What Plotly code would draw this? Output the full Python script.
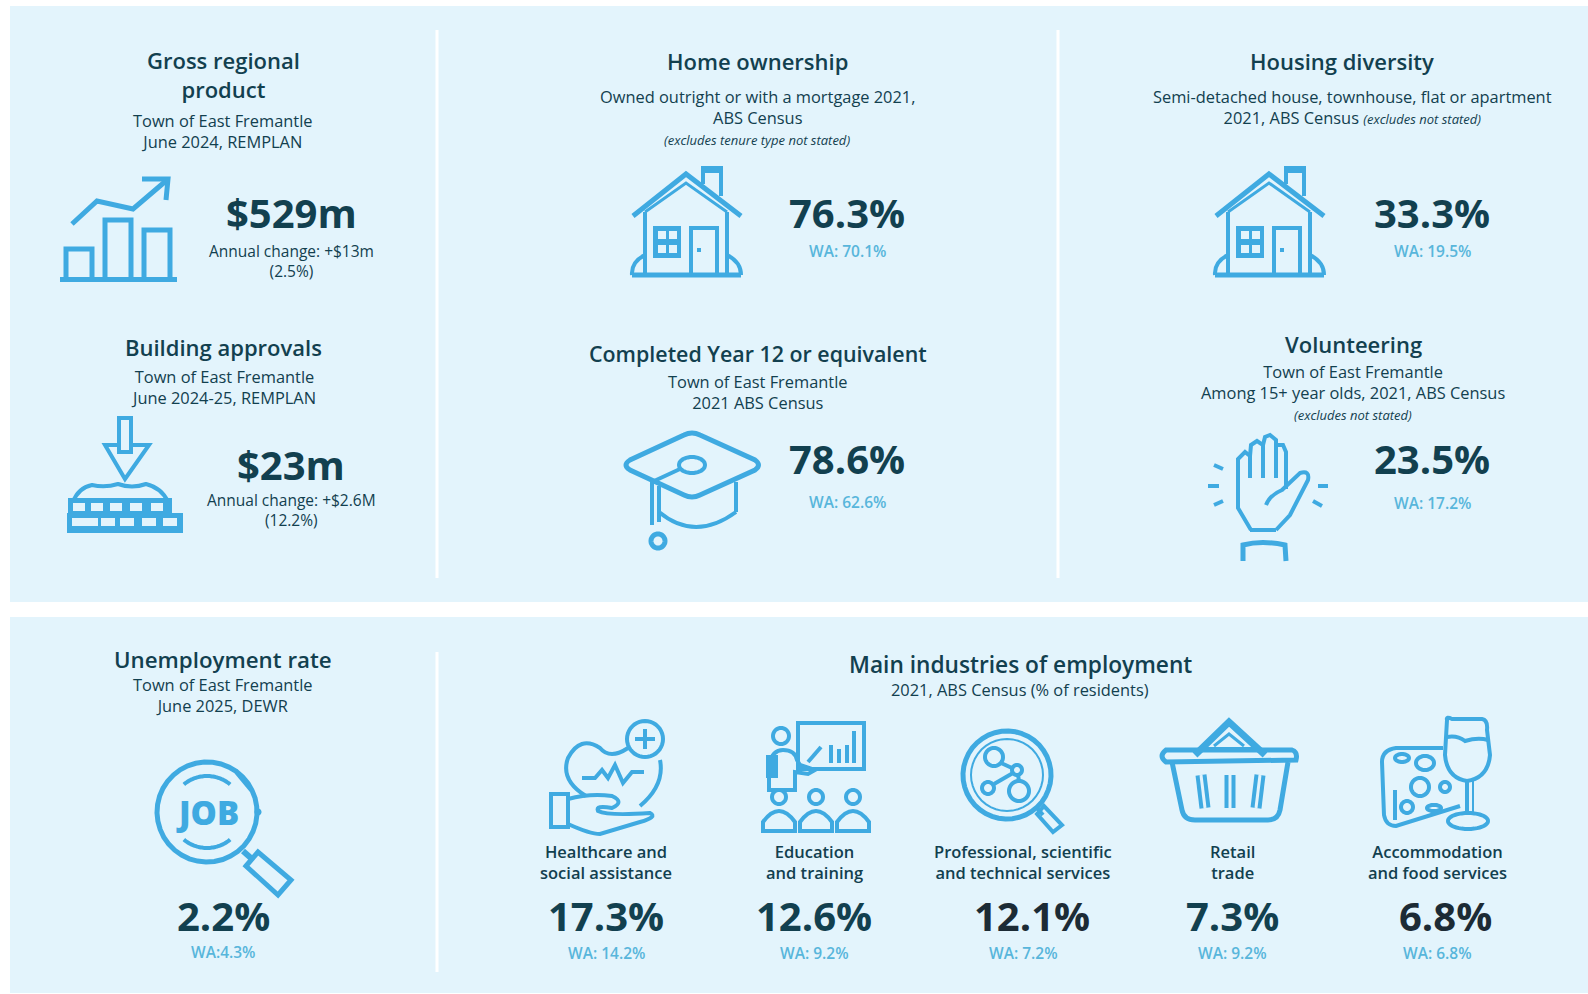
import numpy as np
import plotly.graph_objects as go

W, H = 1588, 994
PANEL = "#E3F4FC"
ICON = "#3FAAE1"
DARK = "#12404F"
BLACK = "#1C2B35"
WA = "#58B6DB"
FONT = "Open Sans"

# ---- chart text and values ----
titles = ["Gross regional<br>product", "Building approvals", "Home ownership",
          "Completed Year 12 or equivalent", "Housing diversity", "Volunteering",
          "Unemployment rate", "Main industries of employment"]
subtitles = ["Town of East Fremantle<br>June 2024, REMPLAN",
             "Town of East Fremantle<br>June 2024-25, REMPLAN",
             "Owned outright or with a mortgage 2021,<br>ABS Census",
             "Town of East Fremantle<br>2021 ABS Census",
             "Semi-detached house, townhouse, flat or apartment<br>2021, ABS Census <i><span style='font-size:13px'>(excludes not stated)</span></i>",
             "Town of East Fremantle<br>Among 15+ year olds, 2021, ABS Census",
             "Town of East Fremantle<br>June 2025, DEWR",
             "2021, ABS Census (% of residents)"]
notes = ["(excludes tenure type not stated)", "(excludes not stated)"]
kpi_values = ["$529m", "$23m", "76.3%", "78.6%", "33.3%", "23.5%", "2.2%"]
kpi_captions = ["Annual change: +$13m<br>(2.5%)", "Annual change: +$2.6M<br>(12.2%)"]
kpi_wa = ["WA: 70.1%", "WA: 62.6%", "WA: 19.5%", "WA: 17.2%", "WA:4.3%"]
industries = ["Healthcare and<br>social assistance", "Education<br>and training",
              "Professional, scientific<br>and technical services", "Retail<br>trade",
              "Accommodation<br>and food services"]
industry_share = ["17.3%", "12.6%", "12.1%", "7.3%", "6.8%"]
industry_wa = ["WA: 14.2%", "WA: 9.2%", "WA: 7.2%", "WA: 9.2%", "WA: 6.8%"]

# ---- layout positions ----
title_xy = [(223, 74), (223, 347), (757, 61), (758, 353), (1342, 61), (1353, 344), (223, 659), (1020, 664)]
title_size = [22, 22, 22, 21.4, 22, 22, 22.3, 22.7]
sub_xy = [(223, 131), (223, 387), (757, 107), (758, 392), (1352, 107), (1353, 382), (223, 695), (1020, 689)]
note_xy = [(757, 140), (1353, 415)]
val_xy = [(291, 212), (291, 464), (847, 212), (847, 458), (1432, 212), (1432, 458), (223, 915)]
cap_xy = [(291, 261), (291, 510)]
wa_xy = [(847, 251), (847, 502), (1432, 251), (1432, 503), (223, 952)]
ind_x = [606, 814, 1023, 1232, 1437]
ind_val_x = [606, 814, 1032, 1232, 1445]
ind_val_col = [DARK, DARK, BLACK, DARK, BLACK]

shapes, ann = [], []


def text(t, x, y, size, color=DARK, weight=400):
    ann.append(dict(text=t, x=x, y=y, xref="x", yref="y", showarrow=False,
                    xanchor="center", yanchor="middle", align="center",
                    font=dict(family=FONT, size=size, color=color, weight=weight)))


def stroke(d, w=4, fill=None, color=ICON):
    shapes.append(dict(type="path", path=d, xref="x", yref="y", layer="above",
                       line=dict(color=color, width=w),
                       fillcolor=fill if fill else "rgba(0,0,0,0)"))


def poly(pts, close=False):
    return "M" + " L".join(f"{x:.1f},{y:.1f}" for x, y in pts) + (" Z" if close else "")


def line(pts, w=4, color=ICON):
    stroke(poly(pts), w, color=color)


def arc(cx, cy, rx, ry=None, a0=0, a1=360, w=4, fill=None, color=ICON):
    ry = rx if ry is None else ry
    t = np.radians(np.linspace(a0, a1, 41))
    closed = abs(a1 - a0) >= 360
    stroke(poly(list(zip(cx + rx * np.cos(t), cy + ry * np.sin(t))), closed), w, fill, color)


def rect(x0, y0, x1, y1, w=4, fill=None, color=ICON):
    stroke(poly([(x0, y0), (x1, y0), (x1, y1), (x0, y1)], True), w, fill, color)


def solid(x0, y0, x1, y1, color=ICON):
    shapes.append(dict(type="rect", x0=x0, y0=y0, x1=x1, y1=y1, xref="x", yref="y", layer="above",
                       line=dict(width=0), fillcolor=color))


# ---- panels and dividers ----
shapes.append(dict(type="rect", x0=10, y0=6, x1=W, y1=602, xref="x", yref="y", layer="below", line=dict(width=0), fillcolor=PANEL))
shapes.append(dict(type="rect", x0=10, y0=617, x1=W, y1=993, xref="x", yref="y", layer="below", line=dict(width=0), fillcolor=PANEL))
for x, y0, y1 in [(437, 30, 578), (1058, 30, 578), (437, 652, 972)]:
    shapes.append(dict(type="line", x0=x, x1=x, y0=y0, y1=y1, xref="x", yref="y", layer="below",
                       line=dict(color="white", width=3)))


# ---- icons ----
def icon_growth():
    solid(60, 277, 177, 282)
    for x0, x1, y0 in [(66, 92, 249), (105, 131, 220), (144, 170, 230)]:
        line([(x0, 278), (x0, y0), (x1, y0), (x1, 278)], 5)
    line([(72, 224), (97, 201), (133, 209), (167, 180)], 5)
    line([(142, 179), (168, 179), (166, 200)], 5)


def icon_bricks():
    stroke(poly([(119, 418), (131, 418), (131, 452), (119, 452)], True), 4)
    line([(119, 445), (105, 445), (125, 479), (149, 445), (131, 445)], 4)
    stroke("M73,502 Q78,488 92,485 Q105,488 118,484 Q132,489 146,484 Q162,488 168,502", 4)
    solid(68, 498, 172, 514)
    solid(67, 513, 183, 533)
    for x in [73, 91, 110, 130, 151]:
        solid(x, 503, x + 12, 511, PANEL)
    for x in [72, 84, 101, 120, 142, 163]:
        solid(x, 518, x + 14, 526, PANEL)


def icon_house(dx):
    stroke(f"M{633+dx},216 L{686+dx},174 L{741+dx},216", 5)
    line([(645 + dx, 212), (686 + dx, 183), (727 + dx, 212)], 3)
    line([(645 + dx, 212), (645 + dx, 274)], 4)
    line([(727 + dx, 212), (727 + dx, 274)], 4)
    line([(703 + dx, 184), (703 + dx, 170), (721 + dx, 170), (721 + dx, 196)], 4)
    solid(701 + dx, 166, 723 + dx, 173)
    stroke(f"M{632+dx},275 L{741+dx},275", 5)
    stroke(f"M{645+dx},255 Q{631+dx},262 {632+dx},275", 4)
    stroke(f"M{727+dx},255 Q{741+dx},262 {741+dx},275", 4)
    solid(653 + dx, 226, 681 + dx, 258)
    for xx in (658, 669):
        for yy in (231, 245):
            solid(xx + dx, yy, xx + 8 + dx, yy + 8, PANEL)
    line([(691 + dx, 274), (691 + dx, 228), (717 + dx, 228), (717 + dx, 274)], 4)
    solid(697 + dx, 248, 701 + dx, 252)


def icon_cap():
    stroke("M684,435 Q692,431 700,435 L755,460 Q762,465 755,470 L700,495 Q692,499 684,495 L630,470 Q622,465 630,460 Z", 5)
    arc(692, 465, 13, 8, w=4)
    line([(680, 469), (652, 482), (652, 525)], 4)
    line([(659, 486), (659, 522)], 4)
    line([(736, 482), (736, 512)], 4)
    stroke("M659,512 Q695,542 736,512", 4)
    arc(658, 541, 7, w=5)


def icon_hand():
    line([(1251, 530), (1238, 508), (1238, 459), (1245, 452), (1250, 456), (1250, 478)], 4)
    line([(1250, 456), (1251, 445), (1257, 441), (1263, 445), (1263, 478)], 4)
    line([(1263, 445), (1265, 437), (1270, 435), (1276, 440), (1276, 478)], 4)
    line([(1276, 445), (1283, 445), (1286, 452), (1286, 489)], 4)
    stroke("M1266,505 Q1270,495 1282,490 L1300,473 Q1310,470 1308,480 L1290,515 L1276,530", 4)
    line([(1250, 530), (1276, 530)], 4)
    stroke("M1243,561 L1243,545 Q1262,540 1285,545 L1286,561", 5)
    for pts in [[(1214, 465), (1223, 469)], [(1208, 486), (1219, 486)], [(1214, 505), (1223, 501)],
                [(1318, 486), (1328, 486)], [(1313, 501), (1322, 506)]]:
        line(pts, 4)


def icon_job():
    arc(207, 812, 50, a0=-55, a1=335, w=5)
    arc(207, 812, 36, a0=-130, a1=-50, w=4)
    arc(207, 812, 36, a0=50, a1=130, w=4)
    arc(258, 812, 2, w=3)
    text("JOB", 207, 812, 33, ICON, 800)
    line([(243, 851), (252, 859)], 6)
    stroke(poly([(246, 866), (258, 852), (291, 880), (278, 895)], True), 5)


def icon_health():
    arc(645, 739, 18, w=4)
    line([(635, 739), (655, 739)], 4)
    line([(645, 729), (645, 749)], 4)
    stroke("M628,748 Q610,760 600,748 Q580,735 568,758 Q560,780 586,796", 4)
    stroke("M660,760 Q665,785 640,806", 4)
    line([(582, 778), (595, 778), (602, 770), (608, 778), (615, 765), (623, 783), (632, 772), (644, 772)], 4)
    rect(551, 794, 568, 827, 4)
    stroke("M568,799 Q590,793 612,796 Q625,802 612,808 Q595,805 598,811 Q608,816 650,813 Q658,817 640,822 L600,834 Q590,834 568,824", 4)


def icon_teacher():
    rect(798, 723, 864, 769, 4)
    for x, y0 in [(831, 745), (839, 749), (847, 745), (854, 731)]:
        line([(x, 763), (x, y0)], 4)
    arc(781, 736, 8, w=4)
    stroke("M769,765 Q772,750 783,750 Q795,750 797,760 L800,765 L815,770 L808,774 L795,772 L795,790 L769,790 Z", 4)
    solid(766, 755, 778, 778)
    line([(808, 762), (821, 747)], 4)
    for x in (779, 816, 853):
        arc(x, 797, 7, w=4)
        stroke(f"M{x-16},831 L{x-16},822 Q{x},800 {x+16},822 L{x+16},831 Z", 4)


def icon_prof():
    arc(1007, 775, 44, a0=-70, a1=290, w=5)
    arc(1007, 775, 36, w=2)
    line([(1037, 808), (1043, 815)], 4)
    stroke(poly([(1037, 814), (1044, 806), (1062, 825), (1053, 832)], True), 4)
    arc(994, 757, 9, w=4)
    arc(1017, 770, 5, w=4)
    arc(1019, 791, 10, w=4)
    arc(988, 788, 6, w=4)
    line([(1001, 763), (1012, 768)], 4)
    line([(1018, 775), (1019, 781)], 4)
    line([(994, 784), (1013, 773)], 4)


def icon_basket():
    stroke("M1166,750 L1292,750 Q1298,752 1296,760 L1166,762 Q1158,756 1166,750 Z", 5)
    line([(1195, 755), (1229, 722), (1265, 755)], 7)
    line([(1207, 749), (1253, 749)], 4)
    line([(1214, 746), (1229, 734), (1244, 746)], 3)
    stroke("M1172,762 L1182,810 Q1184,820 1195,820 L1268,820 Q1278,820 1280,810 L1288,762", 5)
    for pts in [[(1201, 775), (1205, 808)], [(1230, 775), (1230, 808)], [(1260, 775), (1256, 808)]]:
        line(pts, 11)
        line(pts, 3, PANEL)


def icon_cheese():
    stroke("M1447,720 Q1446,716 1452,719 L1482,719 Q1488,720 1487,730 L1490,755 Q1488,778 1467,781 Q1447,778 1445,755 Z", 4)
    stroke("M1447,737 Q1457,735 1465,741 Q1478,737 1488,740", 4)
    line([(1467, 781), (1467, 813)], 4)
    line([(1473, 781), (1473, 813)], 2)
    arc(1468, 821, 20, 8, w=4)
    stroke("M1443,748 L1396,748 Q1382,750 1382,762 L1384,815 Q1386,826 1396,826 L1460,806", 4)
    arc(1402, 758, 7, 4, w=4)
    arc(1425, 763, 9, 7, w=4)
    arc(1420, 787, 9, w=4)
    arc(1445, 787, 5, w=4)
    arc(1407, 807, 6, w=4)
    arc(1434, 808, 7, 3, w=4)
    line([(1395, 790), (1395, 820)], 4)


icon_growth()
icon_bricks()
icon_house(0)
icon_house(583)
icon_cap()
icon_hand()
icon_job()
icon_health()
icon_teacher()
icon_prof()
icon_basket()
icon_cheese()

# ---- text ----
for t, (x, y), s in zip(titles, title_xy, title_size):
    text(t, x, y, s, DARK, 600)
for t, (x, y) in zip(subtitles, sub_xy):
    text(t, x, y, 16.4, DARK)
for t, (x, y) in zip(notes, note_xy):
    text(f"<i>{t}</i>", x, y, 13, DARK)
for t, (x, y) in zip(kpi_values, val_xy):
    text(t, x, y, 40, DARK, 700)
for t, (x, y) in zip(kpi_captions, cap_xy):
    text(t, x, y, 15.5, DARK)
for t, (x, y) in zip(kpi_wa, wa_xy):
    text(t, x, y, 15.5, WA, 600)
for t, x in zip(industries, ind_x):
    text(t, x, 862, 16.5, DARK, 600)
for t, x, c in zip(industry_share, ind_val_x, ind_val_col):
    text(t, x, 915, 40, c, 700)
for t, x in zip(industry_wa, ind_x):
    text(t, x, 953, 15.5, WA, 600)

fig = go.Figure()
fig.update_layout(
    width=W, height=H, margin=dict(l=0, r=0, t=0, b=0),
    paper_bgcolor="white", plot_bgcolor="white", showlegend=False,
    xaxis=dict(range=[0, W], visible=False, fixedrange=True),
    yaxis=dict(range=[H, 0], visible=False, fixedrange=True),
    shapes=shapes, annotations=ann,
)
fig.write_html("out.html", config=dict(displayModeBar=False),
               post_script="document.body.style.margin='0';document.documentElement.style.overflow='hidden';")
